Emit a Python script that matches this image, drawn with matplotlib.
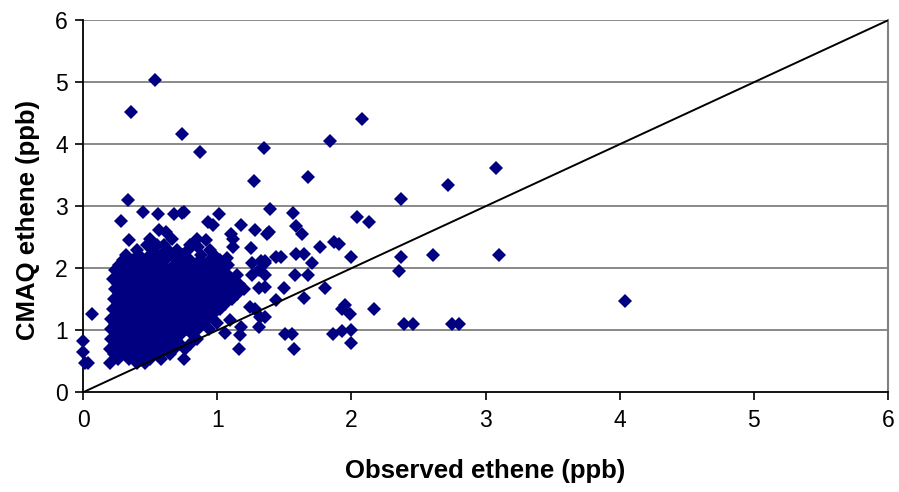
import matplotlib
matplotlib.use("Agg")
import matplotlib.pyplot as plt
from matplotlib import font_manager

names = {f.name for f in font_manager.fontManager.ttflist}
if "Liberation Sans Narrow" in names:
    FAM = ["Liberation Sans Narrow", "DejaVu Sans"]
    TICK_FS, TITLE_FS = 18, 20
else:
    FAM = ["Liberation Sans", "DejaVu Sans"]
    TICK_FS, TITLE_FS = 16.5, 18.5

# Outlying / sparse points (observed, modelled)
sparse_x = [0.355, 0.536, 0.74, 0.874, 1.351, 1.276, 1.679, 1.843, 2.081, 0.338,
            3.08, 2.72, 2.37, 2.04, 2.13, 2.37, 2.61, 3.10, 2.355, 2.17, 2.39, 2.46, 2.75, 2.80, 4.04,
            1.396, 1.563, 1.59, 1.635, 1.28, 1.37, 1.39, 1.77, 1.87, 1.91, 1.995, 1.44, 1.475, 1.59, 1.65,
            1.33, 1.36, 1.71, 1.58, 1.68, 1.36, 1.31, 1.36, 1.50, 1.80, 1.44, 1.65, 1.95, 1.99, 1.93, 1.28,
            1.36, 1.31, 1.505, 1.56, 1.575, 1.86, 1.93, 2.00, 2.00,
            1.26, 1.31, 1.36, 1.26, 1.245, 1.32, 1.18, 1.17, 1.16, 1.095, 0.996, 1.06,
            0.065, 0.0, 0.0, 0.015, 0.04,
            0.28, 0.445, 0.56, 0.68, 0.75, 0.93, 0.97, 1.01, 1.175, 0.34, 0.50, 0.57, 0.62, 0.66, 0.85,
            0.92, 1.10, 1.12, 1.115, 1.25, 1.07, 0.86, 0.735]
sparse_y = [4.52, 5.03, 4.16, 3.87, 3.94, 3.41, 3.48, 4.06, 4.41, 3.10,
            3.61, 3.35, 3.12, 2.83, 2.74, 2.19, 2.22, 2.22, 1.96, 1.35, 1.10, 1.10, 1.10, 1.10, 1.48,
            2.96, 2.90, 2.68, 2.55, 2.62, 2.55, 2.59, 2.35, 2.42, 2.40, 2.19, 2.19, 2.19, 2.23, 2.23,
            2.11, 2.12, 2.08, 1.89, 1.89, 1.89, 1.68, 1.70, 1.68, 1.68, 1.49, 1.52, 1.41, 1.27, 1.35, 1.35,
            1.22, 1.06, 0.94, 0.94, 0.70, 0.94, 0.99, 1.00, 0.80,
            2.08, 1.97, 2.08, 1.89, 1.38, 1.22, 1.06, 0.92, 0.70, 1.17, 1.11, 0.95,
            1.26, 0.82, 0.65, 0.47, 0.47,
            2.77, 2.91, 2.87, 2.87, 2.91, 2.75, 2.70, 2.88, 2.70, 2.45, 2.48, 2.62, 2.59, 2.48, 2.48,
            2.46, 2.56, 2.48, 2.35, 2.32, 2.16, 2.35, 2.89]

# Dense cluster, read row by row (modelled value -> observed values)
cluster_rows = {
    2.38: [0.48, 0.55, 0.60, 0.80],
    2.30: [0.40, 0.52, 0.63, 0.70, 0.78, 0.95],
    2.22: [0.32, 0.42, 0.50, 0.58, 0.66, 0.74, 0.88, 0.98],
    2.14: [0.30, 0.37, 0.45, 0.53, 0.61, 0.72, 0.80, 0.87, 0.95, 1.02],
    2.06: [0.27, 0.35, 0.42, 0.50, 0.58, 0.68, 0.76, 0.84, 0.92, 1.00, 1.08],
    1.98: [0.24, 0.31, 0.39, 0.47, 0.55, 0.63, 0.71, 0.79, 0.87, 0.95, 1.04],
    1.90: [0.27, 0.35, 0.43, 0.51, 0.59, 0.67, 0.75, 0.83, 0.91, 0.99, 1.08, 1.15],
    1.82: [0.22, 0.30, 0.38, 0.46, 0.54, 0.62, 0.70, 0.78, 0.86, 0.94, 1.02, 1.10],
    1.74: [0.26, 0.34, 0.42, 0.50, 0.58, 0.66, 0.74, 0.82, 0.90, 0.98, 1.06, 1.16],
    1.66: [0.24, 0.31, 0.39, 0.47, 0.55, 0.63, 0.71, 0.79, 0.87, 0.95, 1.03, 1.12, 1.20],
    1.58: [0.27, 0.35, 0.43, 0.51, 0.59, 0.67, 0.75, 0.83, 0.91, 0.99, 1.08, 1.15],
    1.50: [0.23, 0.31, 0.39, 0.47, 0.55, 0.63, 0.71, 0.79, 0.87, 0.95, 1.03, 1.11],
    1.42: [0.26, 0.34, 0.42, 0.50, 0.58, 0.66, 0.74, 0.82, 0.90, 0.98, 1.06],
    1.34: [0.22, 0.30, 0.38, 0.46, 0.54, 0.62, 0.70, 0.78, 0.86, 0.94, 1.02],
    1.26: [0.25, 0.33, 0.41, 0.49, 0.57, 0.65, 0.73, 0.81, 0.89, 0.97],
    1.18: [0.21, 0.29, 0.37, 0.45, 0.53, 0.61, 0.69, 0.77, 0.85, 0.93],
    1.10: [0.24, 0.32, 0.40, 0.48, 0.56, 0.64, 0.72, 0.80, 0.88],
    1.02: [0.21, 0.29, 0.37, 0.45, 0.53, 0.61, 0.69, 0.77, 0.86, 0.94],
    0.94: [0.25, 0.33, 0.41, 0.49, 0.57, 0.65, 0.73, 0.81],
    0.86: [0.21, 0.29, 0.37, 0.45, 0.53, 0.61, 0.69, 0.85],
    0.78: [0.24, 0.32, 0.40, 0.48, 0.56, 0.64, 0.72, 0.80],
    0.70: [0.20, 0.28, 0.36, 0.44, 0.52, 0.60, 0.68, 0.76],
    0.62: [0.23, 0.31, 0.39, 0.47, 0.55, 0.65],
    0.54: [0.26, 0.34, 0.42, 0.50, 0.58, 0.75],
    0.47: [0.20, 0.40, 0.46],
}

x_ticks = [0, 1, 2, 3, 4, 5, 6]
y_ticks = [0, 1, 2, 3, 4, 5, 6]
x_title = "Observed ethene (ppb)"
y_title = "CMAQ ethene (ppb)"

obs = list(sparse_x)
mod = list(sparse_y)
for yv, xs in cluster_rows.items():
    obs.extend(xs)
    mod.extend([yv] * len(xs))

fig = plt.figure(figsize=(8.99, 4.92), dpi=100)
ax = fig.add_axes([83 / 899, 1 - 392.3 / 492, (888 - 83) / 899, (392.3 - 20.3) / 492])

ax.set_xlim(0, 6)
ax.set_ylim(0, 6)
for yv in y_ticks[1:]:
    ax.axhline(yv, color="#808080", lw=1.3, zorder=1)

ax.plot(obs, mod, linestyle="none", marker="D", ms=7.3, color="#000080",
        markeredgewidth=0, zorder=3, clip_on=False)
ax.plot([0, 6], [0, 6], color="black", lw=1.4, zorder=4)

ax.spines["top"].set_visible(False)
ax.spines["right"].set_color("#808080")
ax.spines["right"].set_linewidth(1.5)
ax.spines["left"].set_color("black")
ax.spines["left"].set_linewidth(1.3)
ax.spines["bottom"].set_color("black")
ax.spines["bottom"].set_linewidth(1.3)

ax.set_xticks(x_ticks)
ax.set_yticks(y_ticks)
ax.tick_params(axis="x", direction="out", length=6, width=1.2, color="black", pad=6)
ax.tick_params(axis="y", direction="out", length=6, width=1.2, color="black", pad=5)
ax.set_xticklabels([str(t) for t in x_ticks], family=FAM, fontsize=TICK_FS)
ax.set_yticklabels([str(t) for t in y_ticks], family=FAM, fontsize=TICK_FS)

fig.text(485 / 899, 1 - 471 / 492, x_title, ha="center", va="center",
         family=FAM, fontsize=TITLE_FS, fontweight="bold")
fig.text(28 / 899, 1 - 220 / 492, y_title, ha="center", va="center", rotation=90,
         family=FAM, fontsize=TITLE_FS, fontweight="bold")

fig.savefig("out.png", dpi=100)
